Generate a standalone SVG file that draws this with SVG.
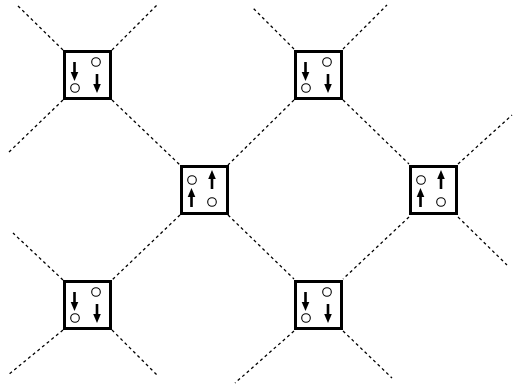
<svg xmlns="http://www.w3.org/2000/svg" xmlns:xlink="http://www.w3.org/1999/xlink" width="514" height="387" viewBox="0 0 514 387">
<style>
.bg{fill:#fff}
.link{stroke:#000;stroke-width:1.3;stroke-dasharray:3 3;fill:none}
.box{fill:#fff;stroke:#000;stroke-width:3}
.site{fill:#fff;stroke:#000;stroke-width:1.1}
.arr{fill:#000}
</style>
<defs>
<g id="adown"><rect class="arr" x="-1.3" y="0" width="2.6" height="11"/><polygon class="arr" points="-3.8,10 3.8,10 0,19"/></g>
<g id="aup"><rect class="arr" x="-1.3" y="8" width="2.6" height="11"/><polygon class="arr" points="-3.8,9 3.8,9 0,0"/></g>
<g id="cellDown">
<rect class="box" x="1.5" y="1.5" width="46" height="47"/>
<use xlink:href="#adown" x="11.5" y="12"/>
<circle class="site" cx="12" cy="38" r="4.3"/>
<circle class="site" cx="33" cy="12" r="4.3"/>
<use xlink:href="#adown" x="34" y="24"/>
</g>
<g id="cellUp">
<rect class="box" x="1.5" y="1.5" width="46" height="47"/>
<circle class="site" cx="12" cy="15" r="4.3"/>
<use xlink:href="#aup" x="32" y="5"/>
<use xlink:href="#aup" x="11.5" y="23"/>
<circle class="site" cx="32" cy="37" r="4.3"/>
</g>
</defs>
<rect class="bg" width="514" height="387"/>
<g id="connectors">
<line class="link" x1="63" y1="50" x2="17" y2="5"/>
<line class="link" x1="112" y1="50" x2="157" y2="5"/>
<line class="link" x1="63" y1="100" x2="8" y2="153"/>
<line class="link" x1="112" y1="100" x2="180" y2="165"/>
<line class="link" x1="294" y1="49" x2="252" y2="7"/>
<line class="link" x1="343" y1="49" x2="387" y2="5"/>
<line class="link" x1="294" y1="100" x2="228" y2="165"/>
<line class="link" x1="343" y1="100" x2="409" y2="164"/>
<line class="link" x1="458" y1="164" x2="512" y2="115"/>
<line class="link" x1="458" y1="217" x2="507" y2="265"/>
<line class="link" x1="409" y1="217" x2="343" y2="279"/>
<line class="link" x1="180" y1="215" x2="112" y2="280"/>
<line class="link" x1="228" y1="215" x2="294" y2="279"/>
<line class="link" x1="63" y1="280" x2="13" y2="233"/>
<line class="link" x1="63" y1="330" x2="8" y2="375"/>
<line class="link" x1="112" y1="330" x2="157" y2="375"/>
<line class="link" x1="294" y1="331" x2="235" y2="383"/>
<line class="link" x1="343" y1="331" x2="392" y2="378"/>
</g>
<g id="node1"><use xlink:href="#cellDown" x="63" y="50"/></g>
<g id="node2"><use xlink:href="#cellUp" x="180" y="165"/></g>
<g id="node3"><use xlink:href="#cellUp" x="409" y="165"/></g>
<g id="node4"><use xlink:href="#cellDown" x="294" y="50"/></g>
<g id="node5"><use xlink:href="#cellDown" x="63" y="280"/></g>
<g id="node6"><use xlink:href="#cellDown" x="294" y="280"/></g>
</svg>
